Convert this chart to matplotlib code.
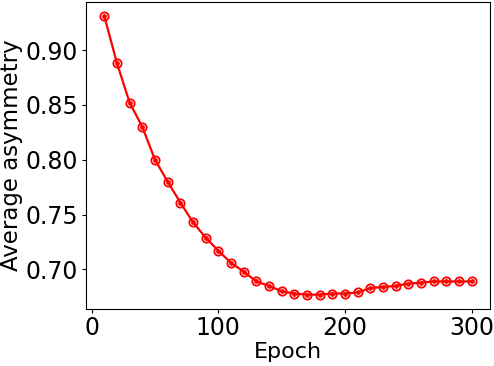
import matplotlib
matplotlib.use('Agg')
import matplotlib.pyplot as plt

epochs = list(range(10, 310, 10))
asymmetry = [0.931, 0.888, 0.852, 0.830, 0.800, 0.780, 0.761, 0.743, 0.729, 0.717,
             0.706, 0.698, 0.689, 0.685, 0.680, 0.678, 0.677, 0.677, 0.678, 0.678,
             0.679, 0.683, 0.684, 0.685, 0.687, 0.688, 0.689, 0.689, 0.689, 0.689]

fig = plt.figure(figsize=(4.94, 3.66), dpi=100)
ax = fig.add_axes([0.174, 0.157, 0.818, 0.837])
# hollow ring plus a small centre dot, like the reference markers
ax.plot(epochs, asymmetry, color='red', marker='o', mfc='none', ms=6, mew=1.3, lw=1.6)
ax.plot(epochs, asymmetry, color='red', marker='o', ls='none', ms=2.5, alpha=0.9)
ax.set_xlabel('Epoch', fontsize=16, labelpad=1)
ax.set_ylabel('Average asymmetry', fontsize=16.5, labelpad=2)
ax.set_xticks([0, 100, 200, 300])
ax.tick_params(labelsize=17, length=3, pad=2.5)
fig.savefig('out.png', dpi=100)
